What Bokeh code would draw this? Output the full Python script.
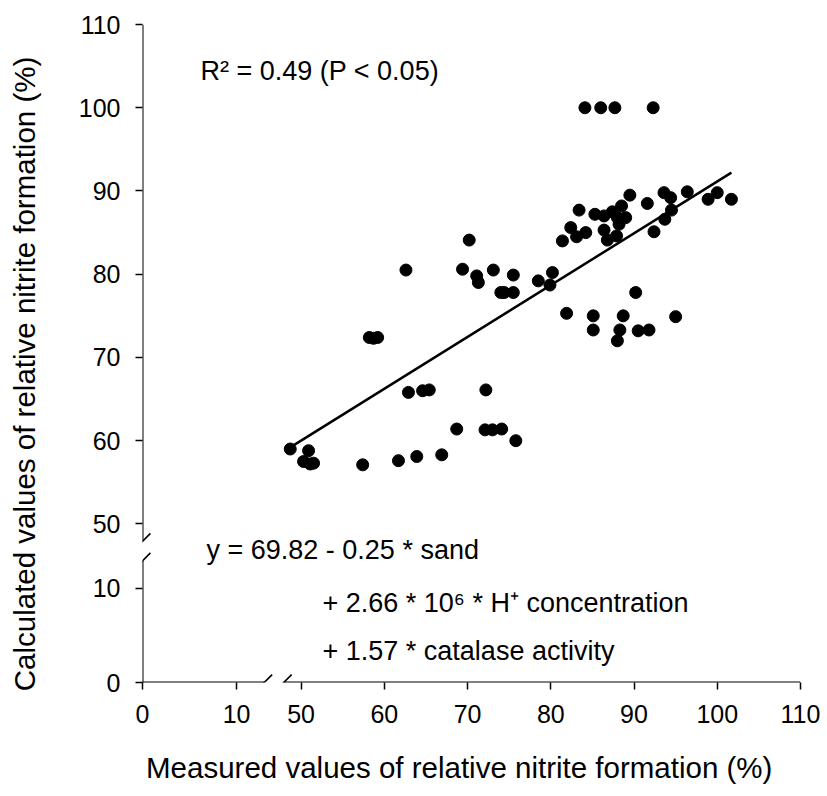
from bokeh.plotting import figure
from bokeh.models import FixedTicker, Label, Arrow, ColumnDataSource
from bokeh.embed import file_html
from bokeh.resources import INLINE

# ---------------- data ----------------
measured = [48.7, 50.9, 50.3, 51.1, 51.5, 57.4, 61.7, 63.9, 66.9, 68.7,
            62.9, 64.6, 65.4, 58.2, 58.7, 59.2, 72.2, 72.1, 73.0, 74.1,
            75.8, 62.6, 69.4, 70.2, 71.1, 71.3, 73.1, 75.5, 74.0, 74.4,
            75.5, 78.5, 80.2, 79.9, 81.4, 82.4, 83.1, 83.4, 84.2, 85.3,
            86.4, 87.4, 88.5, 86.4, 86.8, 87.9, 88.0, 89.0, 88.2, 89.5,
            91.6, 92.4, 93.6, 94.4, 94.5, 93.7, 96.4, 98.9, 100.0, 101.7,
            84.1, 86.0, 87.7, 92.3, 90.2, 81.9, 85.1, 85.1, 88.7, 88.3,
            88.0, 90.5, 91.8, 95.0]
calculated = [59.0, 58.8, 57.5, 57.2, 57.3, 57.1, 57.6, 58.1, 58.3, 61.4,
              65.8, 66.0, 66.1, 72.4, 72.3, 72.4, 66.1, 61.3, 61.3, 61.4,
              60.0, 80.5, 80.6, 84.1, 79.8, 79.0, 80.5, 79.9, 77.8, 77.8,
              77.8, 79.2, 80.2, 78.7, 84.0, 85.6, 84.5, 87.7, 85.0, 87.2,
              87.0, 87.5, 88.2, 85.3, 84.1, 84.6, 86.8, 86.8, 86.0, 89.5,
              88.5, 85.1, 89.8, 89.2, 87.7, 86.6, 89.9, 89.0, 89.8, 89.0,
              100.0, 100.0, 100.0, 100.0, 77.8, 75.3, 75.0, 73.3, 75.0, 73.3,
              72.0, 73.2, 73.3, 74.9]
x_ticks = [0, 10, 50, 60, 70, 80, 90, 100, 110]
y_ticks = [0, 10, 50, 60, 70, 80, 90, 100, 110]
fit_intercept = 28.88
fit_slope = 0.6226

r2_text = "R² = 0.49 (P < 0.05)"
eq_lines = ["y = 69.82 - 0.25 * sand",
            "+ 2.66 * 10⁶ * H⁺ concentration",
            "+ 1.57 * catalase activity"]
x_title = "Measured values of relative nitrite formation (%)"
y_title = "Calculated values of relative nitrite formation (%)"

# ---------------- broken-axis transform ----------------
BREAK_LO, BREAK_HI = 10, 50
LOW_SCALE, GAP = 1.13, 7.75


def fwd(v):
    return v if v > BREAK_LO else BREAK_HI - GAP - (BREAK_LO - v) * LOW_SCALE


AX0 = fwd(0)
AXMAX = 110
FRAME = 658
L, T, R, B = 142, 24, 27, 114
S = FRAME / (AXMAX - AX0)


def px_x(px):
    return AX0 + (px - L) / S


def px_y(py):
    return AX0 + (T + FRAME - py) / S


FONT = "Liberation Sans"
NBSP = "\u00a0"

p = figure(frame_width=FRAME, frame_height=FRAME,
           x_range=(AX0, AXMAX), y_range=(AX0, AXMAX),
           output_backend="svg", toolbar_location=None,
           min_border_left=L, min_border_right=R,
           min_border_top=T, min_border_bottom=B,
           background_fill_color="white", border_fill_color="white",
           outline_line_color=None)
p.grid.visible = False

for ax, ticks in ((p.xaxis[0], x_ticks), (p.yaxis[0], y_ticks)):
    ax.ticker = FixedTicker(ticks=[fwd(t) for t in ticks])
    ax.major_label_overrides = {fwd(t): str(t) for t in ticks}
    ax.axis_line_color = None
    ax.major_tick_out = 7
    ax.major_tick_in = 0
    ax.minor_tick_line_color = None
    ax.major_tick_line_color = "black"
    ax.major_tick_line_width = 1.5
    ax.major_label_text_font = FONT
    ax.major_label_text_font_size = "25px"
    ax.major_label_text_color = "black"
    ax.major_label_standoff = 15
    ax.axis_label_text_font = FONT
    ax.axis_label_text_font_size = "29.5px"
    ax.axis_label_text_font_style = "normal"
    ax.axis_label_text_color = "black"

# trailing no-break spaces shift the centred titles toward the axis start,
# as in the reference
p.xaxis[0].axis_label = x_title + NBSP * 3
p.xaxis[0].axis_label_standoff = 25
p.yaxis[0].axis_label = y_title + NBSP * 5
p.yaxis[0].axis_label_standoff = 35

# axis lines with breaks
lo = fwd(BREAK_LO)
bc = lo + 0.58 * (BREAK_HI - lo)
d, h = 1.17, 0.95
LW = 2.0


def seg(x0, y0, x1, y1, w=LW):
    p.add_layout(Arrow(end=None, x_start=x0, y_start=y0, x_end=x1, y_end=y1,
                       line_color="black", line_width=w))


# y axis
seg(AX0, AX0 - 0.12, AX0, bc - d)
seg(AX0, bc + d, AX0, AXMAX)
seg(AX0 - h, bc - d - h, AX0 + h, bc - d + h, 1.6)
seg(AX0 - h, bc + d - h, AX0 + h, bc + d + h, 1.6)
# x axis
seg(AX0 - 0.12, AX0, bc - d, AX0)
seg(bc + d, AX0, AXMAX, AX0)
seg(bc - d - h, AX0 - h, bc - d + h, AX0 + h, 1.6)
seg(bc + d - h, AX0 - h, bc + d + h, AX0 + h, 1.6)

# data
src = ColumnDataSource(dict(x=[fwd(v) for v in measured],
                            y=[fwd(v) for v in calculated]))
p.scatter("x", "y", source=src, size=12, fill_color="black", line_color="black")

xmin, xmax = min(measured), max(measured)
p.line([fwd(xmin), fwd(xmax)],
       [fwd(fit_intercept + fit_slope * xmin), fwd(fit_intercept + fit_slope * xmax)],
       line_color="black", line_width=2.5)

# annotations
for txt, px, py in ((r2_text, 200, 70), (eq_lines[0], 206, 549),
                    (eq_lines[1], 322, 602), (eq_lines[2], 322, 650)):
    p.add_layout(Label(x=px_x(px), y=px_y(py), text=txt, text_font=FONT,
                       text_font_size="27px", text_align="left",
                       text_baseline="alphabetic", text_color="black"))

open("out.html", "w").write(file_html(p, INLINE))
